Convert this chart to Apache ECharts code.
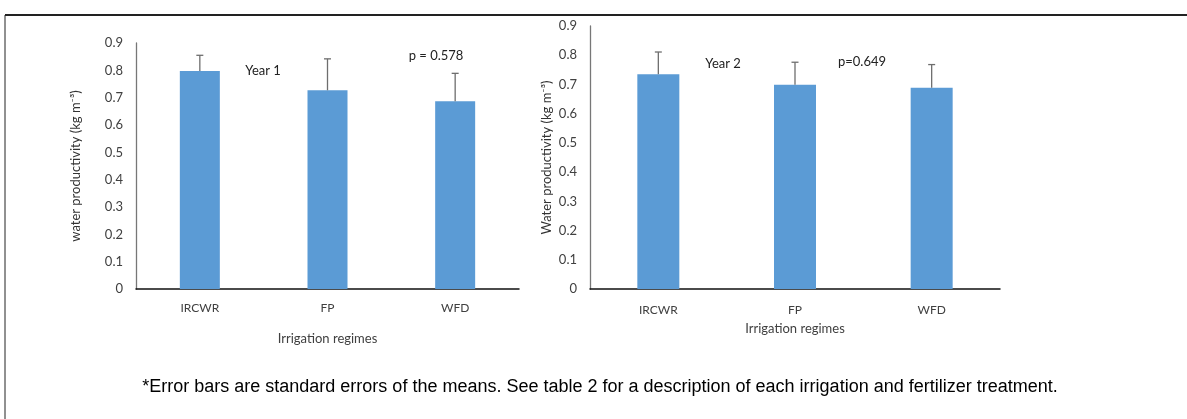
<!DOCTYPE html>
<html>
<head>
<meta charset="utf-8">
<script src="https://cdn.jsdelivr.net/npm/echarts@6/dist/echarts.min.js"></script>
<style>
  html, body { margin: 0; padding: 0; background: #fff; }
  #chart { width: 1187px; height: 419px; }
</style>
</head>
<body>
<div id="chart"></div>
<script>
// data
var categories = ['IRCWR', 'FP', 'WFD'];
var year1Means = [0.798, 0.727, 0.687];
var year1Errors = [0.057, 0.115, 0.102];
var year2Means = [0.735, 0.699, 0.689];
var year2Errors = [0.076, 0.077, 0.079];
var yMin = 0, yMax = 0.9, yStep = 0.1;

var barColor = '#5B9BD5';
var errColor = '#6e6e6e';
var txtColor = '#404040';
var calibri = 'Lato, "Open Sans", sans-serif';

function errData(means, errs) {
    return means.map(function (m, i) { return [i, m, errs[i]]; });
}

function renderErr(params, api) {
    var base = api.coord([api.value(0), api.value(1)]);
    var top = api.coord([api.value(0), api.value(1) + api.value(2)]);
    var style = { stroke: errColor, lineWidth: 1.3 };
    return {
        type: 'group',
        children: [
            { type: 'line', shape: { x1: base[0], y1: base[1], x2: top[0], y2: top[1] }, style: style },
            { type: 'line', shape: { x1: top[0] - 3.5, y1: top[1], x2: top[0] + 3.5, y2: top[1] }, style: style }
        ]
    };
}

function yAxis(idx, name, gap) {
    return {
        type: 'value', gridIndex: idx, min: yMin, max: yMax, interval: yStep,
        name: name, nameLocation: 'middle', nameRotate: 90, nameGap: gap,
        nameTextStyle: { fontFamily: calibri, fontSize: 13, color: '#333' },
        axisLine: { show: true, lineStyle: { color: '#777', width: 1.3 } },
        axisTick: { show: false },
        splitLine: { show: false },
        axisLabel: {
            margin: 13, fontFamily: calibri, fontSize: 13, color: txtColor,
            formatter: function (v) { return v === 0 ? '0' : v.toFixed(1); }
        }
    };
}

function xAxis(idx, gap, margin) {
    return {
        type: 'category', gridIndex: idx, data: categories,
        name: 'Irrigation regimes', nameLocation: 'middle', nameGap: gap,
        nameTextStyle: { fontFamily: calibri, fontSize: 13, color: txtColor },
        axisLine: { lineStyle: { color: '#111', width: 1.5 } },
        axisTick: { show: false },
        axisLabel: { margin: margin, fontFamily: calibri, fontSize: 12, color: txtColor }
    };
}

function note(text, x, y) {
    return {
        type: 'text', x: x, y: y,
        style: { text: text, fill: '#222', font: '13px ' + calibri, align: 'center', verticalAlign: 'middle' }
    };
}

var option = {
    animation: false,
    grid: [
        { left: 136, top: 43, width: 383, height: 246 },
        { left: 590, top: 26, width: 410, height: 263 }
    ],
    xAxis: [xAxis(0, 43, 13), xAxis(1, 33, 15)],
    yAxis: [
        yAxis(0, 'water productivity (kg m\u207B\u00B3)', 54),
        yAxis(1, 'Water productivity (kg m\u207B\u00B3)', 37)
    ],
    series: [
        { type: 'bar', xAxisIndex: 0, yAxisIndex: 0, data: year1Means, barWidth: 40,
          itemStyle: { color: barColor } },
        { type: 'custom', xAxisIndex: 0, yAxisIndex: 0, data: errData(year1Means, year1Errors),
          renderItem: renderErr, z: 5 },
        { type: 'bar', xAxisIndex: 1, yAxisIndex: 1, data: year2Means, barWidth: 42,
          itemStyle: { color: barColor } },
        { type: 'custom', xAxisIndex: 1, yAxisIndex: 1, data: errData(year2Means, year2Errors),
          renderItem: renderErr, z: 5 }
    ],
    graphic: [
        // figure frame
        { type: 'line', shape: { x1: 5, y1: 15, x2: 1187, y2: 15 }, style: { stroke: '#222', lineWidth: 2 } },
        { type: 'line', shape: { x1: 5, y1: 15, x2: 5, y2: 419 }, style: { stroke: '#222', lineWidth: 1 } },
        note('Year 1', 263, 71),
        note('p = 0.578', 436, 56),
        note('Year 2', 723, 64),
        note('p=0.649', 862, 62),
        {
            type: 'text', x: 600, y: 387,
            style: {
                text: '*Error bars are standard errors of the means. See table 2 for a description of each irrigation and fertilizer treatment.',
                fill: '#000', font: '18px "Liberation Sans", Arial, sans-serif',
                align: 'center', verticalAlign: 'middle'
            }
        }
    ]
};

var myChart = echarts.init(document.getElementById('chart'));
myChart.setOption(option);
</script>
</body>
</html>
